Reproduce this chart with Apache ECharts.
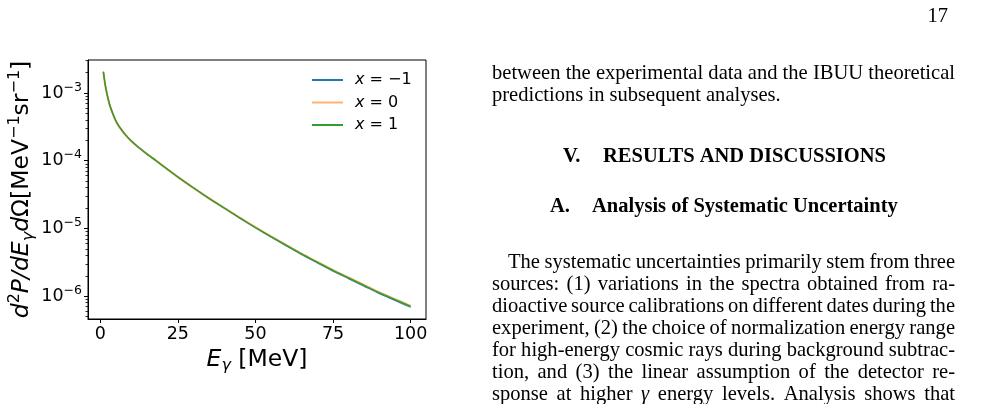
<!DOCTYPE html>
<html><head><meta charset="utf-8">
<script src="https://cdn.jsdelivr.net/npm/echarts@6/dist/echarts.min.js"></script>
<style>html,body{margin:0;padding:0;background:#fff}#c{width:994px;height:404px}</style>
</head><body><div id="c"></div>
<script>
// ---- data ----
const energies = [1,1.5,2,3,4,5,6,8,10,12,15,18,20,25,30,35,40,45,50,55,60,65,70,75,80,85,90,95,100];
const seriesNames = ['x = −1', 'x = 0', 'x = 1'];
const specXm1 = [2.056e-3,1.41e-3,1.047e-3,6.76e-4,5.01e-4,3.89e-4,3.24e-4,2.45e-4,1.95e-4,1.62e-4,1.26e-4,1.0e-4,8.51e-5,5.75e-5,3.98e-5,
                 2.78e-5,1.99e-5,1.42e-5,1.025e-5,7.50e-6,5.54e-6,4.10e-6,3.10e-6,2.35e-6,1.82e-6,1.41e-6,1.09e-6,8.66e-7,6.87e-7];
const specX0  = [2.056e-3,1.41e-3,1.047e-3,6.76e-4,5.01e-4,3.89e-4,3.24e-4,2.45e-4,1.95e-4,1.62e-4,1.26e-4,1.0e-4,8.51e-5,5.75e-5,3.98e-5,
                 2.79e-5,2.0e-5,1.43e-5,1.04e-5,7.63e-6,5.66e-6,4.20e-6,3.19e-6,2.42e-6,1.88e-6,1.46e-6,1.13e-6,9.0e-7,7.16e-7];
const specX1  = [2.056e-3,1.41e-3,1.047e-3,6.76e-4,5.01e-4,3.89e-4,3.24e-4,2.45e-4,1.95e-4,1.62e-4,1.26e-4,1.0e-4,8.51e-5,5.75e-5,3.98e-5,
                 2.79e-5,2.0e-5,1.43e-5,1.035e-5,7.59e-6,5.62e-6,4.17e-6,3.16e-6,2.40e-6,1.86e-6,1.445e-6,1.12e-6,8.91e-7,7.08e-7];
const xTickValues = [0, 25, 50, 75, 100];
const yTickExponents = [-6, -5, -4, -3];

// ---- page text ----
const pageNumber = '17';
const topLines = ['between the experimental data and the IBUU theoretical', 'predictions in subsequent analyses.'];
const heading1 = ['V.', 'RESULTS AND DISCUSSIONS'];
const heading2 = ['A.', 'Analysis of Systematic Uncertainty'];
const paraLines = [
  'The systematic uncertainties primarily stem from three',
  'sources: (1) variations in the spectra obtained from ra-',
  'dioactive source calibrations on different dates during the',
  'experiment, (2) the choice of normalization energy range',
  'for high-energy cosmic rays during background subtrac-',
  'tion, and (3) the linear assumption of the detector re-',
  'sponse at higher γ energy levels.  Analysis shows that'
];

const colors = ['#1f77b4', '#ff7f0e', '#2ca02c'];
const SANS = 'DejaVu Sans';
const SERIF = 'Liberation Serif';

function toLogPairs(ys) { return energies.map((e, i) => [e, Math.log10(ys[i])]); }
const allLog = [].concat(specXm1, specX0, specX1).map(v => Math.log10(v));
const lmin = Math.min(...allLog), lmax = Math.max(...allLog);
const yMin = lmin - 0.05 * (lmax - lmin), yMax = lmax + 0.05 * (lmax - lmin);
const exMin = energies[0], exMax = energies[energies.length - 1];
const xMin = exMin - 0.05 * (exMax - exMin), xMax = exMax + 0.05 * (exMax - exMin);

const minorTicks = [];
for (let n = -7; n <= -2; n++) for (let k = 2; k <= 9; k++) {
  const v = n + Math.log10(k);
  if (v > yMin && v < yMax) minorTicks.push(v);
}

// ---- text layout helpers ----
const ctx = document.createElement('canvas').getContext('2d');
const graphics = [];
const fontFor = (w, size, weight) => (w === 'γ' ? 'italic ' : '') + (weight || 'normal') + ' ' + size + 'px "' + SERIF + '"';
function naturalWidth(text, size) {
  const words = text.split(/\s+/);
  let t = 0;
  words.forEach(w => { ctx.font = fontFor(w, size); t += ctx.measureText(w).width; });
  ctx.font = fontFor('a', size);
  return t + ctx.measureText(' ').width * (words.length - 1);
}
function addWordsLine(text, x0, x1, y, size, weight, justify) {
  const words = text.split(/\s+/);
  const ws = words.map(w => { ctx.font = fontFor(w, size, weight); return ctx.measureText(w).width; });
  const total = ws.reduce((a, b) => a + b, 0);
  ctx.font = fontFor('a', size, weight);
  const gap = justify ? (x1 - x0 - total) / (words.length - 1) : ctx.measureText(' ').width;
  let x = x0;
  words.forEach((w, i) => {
    graphics.push({ type: 'text', x: x, y: y, silent: true,
      style: { text: w, fontSize: size, fontFamily: SERIF, fontWeight: weight || 'normal',
               fontStyle: w === 'γ' ? 'italic' : 'normal', fill: '#000', verticalAlign: 'middle', align: 'left' } });
    x += ws[i] + gap;
  });
}
function fitSize(text, width, weight) {
  ctx.font = (weight || 'normal') + ' 100px "' + SERIF + '"';
  return 100 * width / ctx.measureText(text).width;
}
function putText(text, x, y, size, weight) {
  graphics.push({ type: 'text', x: x, y: y, silent: true,
    style: { text: text, fontSize: size, fontFamily: SERIF, fontWeight: weight || 'normal', fill: '#000', verticalAlign: 'middle', align: 'left' } });
}

const colL = 492, colR = 955;
const justified = [[topLines[0], colR - colL]].concat(paraLines.map((l, i) => [l, colR - (i === 0 ? 508 : colL)]));
let ratioSum = 0;
justified.forEach(([l, w]) => { ratioSum += w / naturalWidth(l, 18); });
const bodySize = Math.min(21, 18 * ratioSum / justified.length * 0.985);

graphics.push({ type: 'text', x: 948, y: 17, silent: true,
  style: { text: pageNumber, fontSize: bodySize, fontFamily: SERIF, fill: '#000', align: 'right', verticalAlign: 'middle' } });
addWordsLine(topLines[0], colL, colR, 74, bodySize, 'normal', true);
addWordsLine(topLines[1], colL, colR, 96, bodySize, 'normal', false);
const h1 = Math.min(20.5, fitSize(heading1[1], 887 - 603, 'bold'));
putText(heading1[0], 563, 157, h1, 'bold');
putText(heading1[1], 603, 157, h1, 'bold');
const h2 = Math.min(21, fitSize(heading2[1], 898 - 592, 'bold'));
putText(heading2[0], 550, 207, h2, 'bold');
putText(heading2[1], 592, 207, h2, 'bold');
paraLines.forEach((ln, i) => addWordsLine(ln, i === 0 ? 508 : colL, colR, 263 + 22 * i, bodySize, 'normal', true));

const chart = echarts.init(document.getElementById('c'), null, { renderer: 'canvas' });
const lineWidths = [1.3, 2.2, 1.3];
const opac = [1, 0.6, 1];
const dataSets = [specXm1, specX0, specX1];

chart.setOption({
  animation: false,
  backgroundColor: '#fff',
  grid: { left: 88, top: 60, width: 338, height: 259, show: true, borderColor: '#000', borderWidth: 1, backgroundColor: 'transparent' },
  legend: {
    data: seriesNames.map((n, i) => ({ name: n, icon: 'rect', itemStyle: { color: colors[i], opacity: opac[i] } })),
    orient: 'vertical', left: 312, top: 71, padding: 0, itemWidth: 31, itemHeight: 2, itemGap: 4.5,
    formatter: n => '{i|x}{t|' + n.slice(1) + '}',
    textStyle: { fontSize: 16, lineHeight: 18, fontFamily: SANS, color: '#000',
      rich: { i: { fontStyle: 'italic', fontSize: 16, lineHeight: 18, fontFamily: SANS, color: '#000', padding: [0, 0, 0, 7] },
              t: { fontSize: 16, lineHeight: 18, fontFamily: SANS, color: '#000' } } }
  },
  xAxis: {
    type: 'value', min: xMin, max: xMax,
    name: '{i|E}{s|γ}{t| [MeV]}', nameLocation: 'middle', nameGap: 24,
    nameTextStyle: { fontSize: 23.5, fontFamily: SANS, color: '#000',
      rich: { i: { fontStyle: 'italic', fontSize: 23.5, lineHeight: 28, fontFamily: SANS, color: '#000' },
              s: { fontStyle: 'italic', fontSize: 16, lineHeight: 16, verticalAlign: 'bottom', fontFamily: SANS, color: '#000' },
              t: { fontSize: 23.5, lineHeight: 28, fontFamily: SANS, color: '#000' } } },
    axisLine: { show: true, onZero: false, lineStyle: { color: '#000', width: 1 } },
    axisTick: { show: true, customValues: xTickValues, length: 4, lineStyle: { color: '#000', width: 1 } },
    axisLabel: { customValues: xTickValues, fontSize: 17.5, fontFamily: SANS, color: '#000', margin: 6 },
    splitLine: { show: false }
  },
  yAxis: [{
    type: 'value', min: yMin, max: yMax,
    name: '{i|d}{p|2}{i|P/dE}{s|γ}{i|d}{t|Ω[MeV}{p|−1}{t|sr}{p|−1}{t|]}', nameLocation: 'middle', nameGap: 51,
    nameTextStyle: { fontSize: 23.5, fontFamily: SANS, color: '#000',
      rich: { i: { fontStyle: 'italic', fontSize: 23.5, lineHeight: 30, fontFamily: SANS, color: '#000' },
              t: { fontSize: 23.5, lineHeight: 30, fontFamily: SANS, color: '#000' },
              p: { fontSize: 16, lineHeight: 16, verticalAlign: 'top', fontFamily: SANS, color: '#000' },
              s: { fontStyle: 'italic', fontSize: 16, lineHeight: 16, verticalAlign: 'bottom', fontFamily: SANS, color: '#000' } } },
    axisLine: { show: true, onZero: false, lineStyle: { color: '#000', width: 1 } },
    axisTick: { show: true, customValues: yTickExponents, length: 4, lineStyle: { color: '#000', width: 1 } },
    axisLabel: { customValues: yTickExponents, margin: 6,
      formatter: v => '{b|10}{s|−' + Math.round(-v) + '}',
      rich: { b: { fontSize: 17.5, lineHeight: 24, fontFamily: SANS, color: '#000' },
              s: { fontSize: 12.5, lineHeight: 12, verticalAlign: 'top', fontFamily: SANS, color: '#000' } } },
    splitLine: { show: false }
  }, {
    type: 'value', min: yMin, max: yMax, position: 'left', offset: 0,
    axisLine: { show: false, onZero: false },
    axisTick: { show: true, customValues: minorTicks, length: 2.5, lineStyle: { color: '#000', width: 0.8 } },
    axisLabel: { show: false }, splitLine: { show: false }
  }],
  series: dataSets.map((d, i) => ({
    name: seriesNames[i], type: 'line', data: toLogPairs(d), symbol: 'none', showSymbol: false,
    smooth: 0.25, color: colors[i], z: 2 + i,
    lineStyle: { color: colors[i], width: lineWidths[i], opacity: opac[i] },
    itemStyle: { color: colors[i], opacity: opac[i] }
  })),
  graphic: graphics
});
</script></body></html>
